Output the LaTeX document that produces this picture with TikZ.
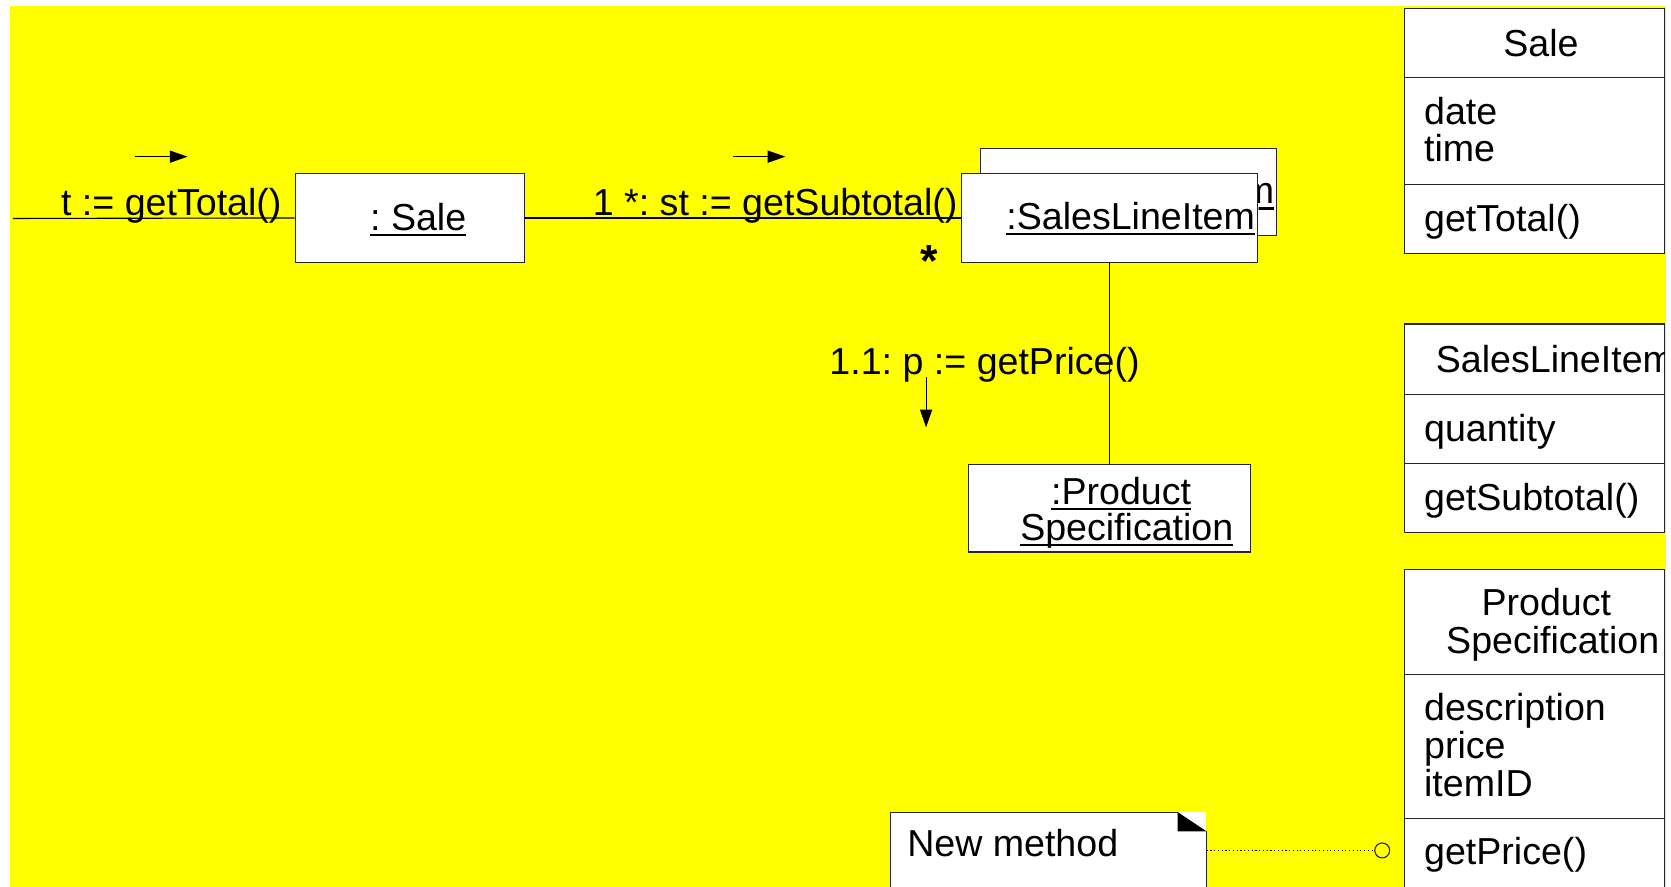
\documentclass[tikz,border=0pt]{standalone}
\usepackage{fontspec}
\setmainfont{Liberation Sans}
\usetikzlibrary{arrows.meta,fit}
\definecolor{bgyellow}{RGB}{255,255,0}
% underlined object name: rule drawn just under the baseline
\newcommand\ulword[1]{\setbox0\hbox{#1}\rlap{\rule[-0.16em]{\wd0}{0.06em}}\box0}
\begin{document}
\begin{tikzpicture}[x=0.02cm,y=-0.02cm,
  font=\fontsize{20.07}{24}\selectfont\frenchspacing,
  box/.style={draw=black!85, fill=white, line width=0.6pt, inner sep=0pt},
  outline/.style={draw=black!85, line width=0.6pt},
  txt/.style={inner sep=0pt, anchor=base west},
  ctxt/.style={inner sep=0pt, anchor=base},
  link/.style={line width=0.6pt, black},
  dirarrow/.style={line width=0.6pt, -{Triangle[length=9.5pt,width=6.5pt]}}]

\useasboundingbox (0,0) rectangle (1568,832);
\clip (0,0) rectangle (1568,832);
\fill[bgyellow] (9.4,5.6) rectangle (1563,832);

% ---------- collaboration diagram ----------
\coordinate (caller) at (12,205);

\node[box, fit={(277,163)(492,246)}] (sale) {};
\node[txt] (saleName) at (347,216) {\ulword{: Sale}};

% multiobject: a second box behind the first, only its right end shows
\node[box, fit={(920,139)(1198,221)}] (sliBack) {};
\begin{scope}
  \clip (1181,139) rectangle (1198,221);
  \node[txt] (sliBackName) at (962,191) {\ulword{:SalesLineItem}};
\end{scope}
\node[box, fit={(902,163)(1180,246)}] (sli) {};
\node[txt] (sliName) at (944,215) {\ulword{:SalesLineItem}};

\node[box, fit={(909,436)(1173,518)}] (ps) {};
\node[txt] (psName1) at (986,473) {\ulword{:Product}};
\node[txt] (psName2) at (957,507) {\ulword{Specification}};

\draw[link] (caller) -- (sale.west);
\draw[link] (sale.east) -- (sli.west);
\draw[link] (sli.south) -- (ps.north);

% messages
\node[txt] (msg1) at (57,202) {t := getTotal()};
\coordinate (m1a) at (127,147); \coordinate (m1b) at (176,147);
\draw[dirarrow] (m1a) -- (m1b);

\node[txt] (msg2) at (556,202) {1 *: st := getSubtotal()};
\coordinate (m2a) at (688,147); \coordinate (m2b) at (737,147);
\draw[dirarrow] (m2a) -- (m2b);

\node[ctxt, font=\fontsize{24}{24}\selectfont\bfseries] (mult) at (872,259) {*};

\node[txt] (msg3) at (778,351) {1.1: p := getPrice()};
\coordinate (m3a) at (869,354); \coordinate (m3b) at (869,401);
\draw[dirarrow] (m3a) -- (m3b);

% note with folded corner
\node[inner sep=0pt, fit={(836,762)(1132,850)}] (note) {};
\fill[white] (836,762) rectangle (1132,850);
\draw[outline] (836,850) -- (836,762) -- (1105,762);
\draw[outline] (1132,780) -- (1132,850);
\fill[black] (1105,762) -- (1105,780) -- (1132,780) -- cycle;
\node[txt] (noteText) at (851,804) {New method};

\node[circle, draw=black!85, line width=0.6pt, inner sep=0pt, minimum size=0.28cm] (pin) at (1297,798) {};
\draw[line width=0.6pt, dash pattern=on 0.6pt off 1.4pt] (note.east |- pin.west) -- (pin.west);

% ---------- class boxes ----------
\node[box, fit={(1318,8)(1562,73)}] (cSaleN) {};
\node[box, fit={(1318,73)(1562,173)}] (cSaleA) {};
\node[box, fit={(1318,173)(1562,238)}] (cSaleO) {};
\node[ctxt] (tSale) at (1446,53) {Sale};
\node[txt] (tDate) at (1336,117) {date};
\node[txt] (tTime) at (1336,152) {time};
\node[txt] (tGetTotal) at (1336,217) {getTotal()};

\node[box, fit={(1318,304)(1562,370)}] (cSliN) {};
\node[box, fit={(1318,370)(1562,435)}] (cSliA) {};
\node[box, fit={(1318,435)(1562,500)}] (cSliO) {};
\begin{scope}
  \clip (1318,304) rectangle (1562,370);
  \node[txt] (tSli) at (1347,350) {SalesLineItem};
\end{scope}
\node[txt] (tQty) at (1336,414) {quantity};
\node[txt] (tGetSub) at (1336,479) {getSubtotal()};

\node[box, fit={(1318,534)(1562,633)}] (cPsN) {};
\node[box, fit={(1318,633)(1562,768)}] (cPsA) {};
\node[box, fit={(1318,768)(1562,850)}] (cPsO) {};
\node[ctxt] (tPs1) at (1451,578) {Product};
\node[ctxt] (tPs2) at (1457,613) {Specification};
\node[txt] (tDesc) at (1336,676) {description};
\node[txt] (tPrice) at (1336,712) {price};
\node[txt] (tItem) at (1336,747) {itemID};
\node[txt] (tGetPrice) at (1336,811) {getPrice()};
\end{tikzpicture}
\end{document}
